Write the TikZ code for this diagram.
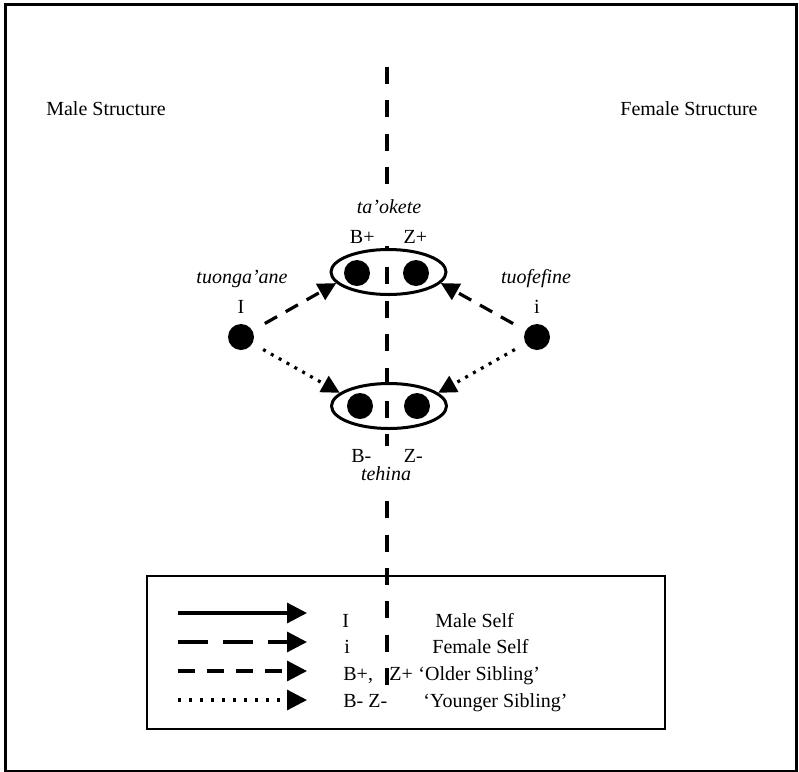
\documentclass[tikz,border=0pt]{standalone}
\usepackage{fontspec}
\setmainfont{Liberation Serif}
\usetikzlibrary{arrows.meta, positioning, shapes.geometric}

\begin{document}
\begin{tikzpicture}[
        x=0.5pt, y=-0.5pt,
        font=\fontsize{10}{12}\selectfont,
        person/.style={circle, fill=black, inner sep=0pt, minimum size=13pt},
        ring/.style={ellipse, draw, line width=1.5pt, inner sep=0pt, minimum width=57.5pt, minimum height=22.5pt},
        term/.style={font=\fontsize{10}{12}\selectfont\itshape, anchor=base},
        tag/.style={anchor=base, inner sep=0pt},
        keytext/.style={anchor=base west, inner sep=0pt},
        older/.style={-{Triangle[length=9pt, width=9pt]}, line width=1.6pt, dash pattern=on 7pt off 5pt, shorten <=7pt},
        younger/.style={-{Triangle[length=9pt, width=9pt]}, line width=1.6pt, dash pattern=on 1.5pt off 3pt, shorten <=6pt},
        divider/.style={line width=1.7pt, dash pattern=on 8.5pt off 8.2pt},
        keyarrow/.style={-{Triangle[length=10pt, width=10pt]}, line width=1.6pt}
    ]
    \useasboundingbox (0,0) rectangle (799,772);

    % --- Frame and divider ---
    \draw[line width=1.5pt] (5.5,4.5) rectangle (796.5,771);
    \coordinate (divtop) at (387,67);
    \coordinate (divbot) at (387,687);
    \draw[divider] (divtop) -- (divbot);

    \node[tag] (malehead) at (106,115) {Male Structure};
    \node[tag] (femalehead) at (689,115) {Female Structure};

    % --- Siblings ---
    \node[ring] (topring) at (388.5,272) {};
    \node[person] (bplus) at (357,273) {};
    \node[person] (zplus) at (416,273) {};
    \node[ring] (botring) at (389,406) {};
    \node[person] (bminus) at (360,406) {};
    \node[person] (zminus) at (417,406) {};

    \node[term, fill=white, inner sep=3pt] (taokete) at (389,213) {ta’okete};
    \node[tag, fill=white, inner sep=1.5pt] (oldpair) at (388.5,243) {B+\hspace{14.5pt}Z+};
    \node[term, fill=white, inner xsep=3pt, inner ysep=3.5pt] (tehina) at (386,480) {tehina};
    \node[tag, fill=white, inner sep=1.5pt] (youngpair) at (387,462) {B-\hspace{16.3pt}Z-};

    % --- Selves ---
    \node[person] (male) at (241,337) {};
    \node[tag] (malelab) at (241,313) {I};
    \node[term] (tuongaane) at (242,283) {tuonga’ane};
    \node[person] (female) at (537,337) {};
    \node[tag] (femalelab) at (537,313) {i};
    \node[term] (tuofefine) at (536,283) {tuofefine};

    \draw[older] (male) -- (topring.192);
    \draw[older] (female) -- (topring.348);
    \draw[younger] (male) -- (botring.165);
    \draw[younger] (female) -- (botring.15);

    % --- Legend ---
    \node[draw, line width=1pt, inner sep=0pt, minimum width=259pt, minimum height=76.5pt] (legend) at (406,652) {};

    \foreach \row/\y in {a/613, b/642, c/671, d/700} {
        \coordinate (start-\row) at (178,\y);
        \coordinate (end-\row) at (307,\y);
    }
    \draw[keyarrow] (start-a) -- (end-a);
    \draw[keyarrow, dash pattern=on 15pt off 7.5pt] (start-b) -- (end-b);
    \draw[keyarrow, dash pattern=on 8.5pt off 6pt] (start-c) -- (end-c);
    \draw[keyarrow, dash pattern=on 1.5pt off 4pt] (start-d) -- (end-d);

    \node[keytext] (keyI) at (342,627) {I};
    \node[keytext] (keyIdesc) at (435,627) {Male Self};
    \node[keytext] (keyi) at (344,653) {i};
    \node[keytext] (keyidesc) at (432,653) {Female Self};
    \node[keytext] (keyB) at (343,680) {B+,};
    \node[keytext] (keyZ) at (389,680) {Z+};
    \node[keytext] (keyBdesc) at (418,680) {‘Older Sibling’};
    \node[keytext] (keyBZ) at (343,707) {B- Z-};
    \node[keytext] (keyBZdesc) at (423,707) {‘Younger Sibling’};

\end{tikzpicture}
\end{document}
